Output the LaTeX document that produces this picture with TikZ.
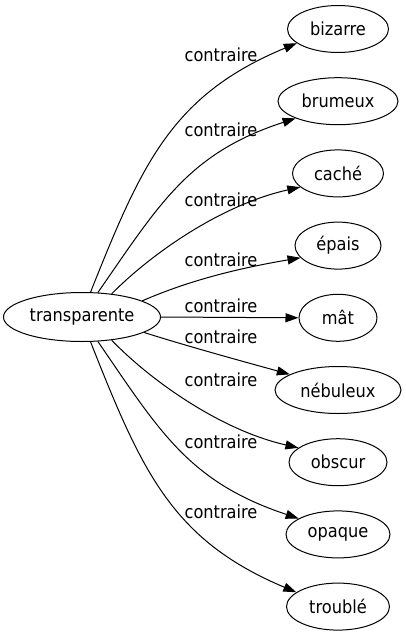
\documentclass[tikz,border=0pt]{standalone}
\usepackage{fontspec}
\setmainfont{DejaVu Sans Condensed}
\usetikzlibrary{shapes.geometric,arrows.meta}
\begin{document}
\begin{tikzpicture}[x=1pt,y=-1pt,
  every node/.style={font=\fontsize{18}{20}\selectfont},
  nd/.style={draw,ellipse,inner sep=0pt,line width=1pt,minimum height=47pt},
  lbl/.style={inner sep=0pt,anchor=center},
  ed/.style={line width=1pt,-{Triangle[length=13pt,width=9pt]}}]
\useasboundingbox (0,0) rectangle (406,635);
\node[nd,minimum width=157pt,minimum height=49pt] (tr) at (82,317) {transparente};
\node[nd,minimum width=101pt] (bi) at (338,29) {bizarre};
\node[nd,minimum width=120pt] (br) at (338,101.2) {brumeux};
\node[nd,minimum width=91pt] (ca) at (338,173.4) {caché};
\node[nd,minimum width=86pt] (ep) at (338,245.6) {épais};
\node[nd,minimum width=78pt] (ma) at (338,317.8) {mât};
\node[nd,minimum width=126pt] (ne) at (338,390) {nébuleux};
\node[nd,minimum width=98pt] (ob) at (338,462.2) {obscur};
\node[nd,minimum width=104pt] (op) at (338,534.4) {opaque};
\node[nd,minimum width=103pt] (to) at (338,606.6) {troublé};
\node[lbl] (l1) at (221,55) {contraire};
\node[lbl] (l2) at (221,130) {contraire};
\node[lbl] (l3) at (221,200) {contraire};
\node[lbl] (l4) at (221,260) {contraire};
\node[lbl] (l5) at (221,306) {contraire};
\node[lbl] (l6) at (221,337) {contraire};
\node[lbl] (l7) at (221,380) {contraire};
\node[lbl] (l8) at (221,442) {contraire};
\node[lbl] (l9) at (221,512) {contraire};
\draw[ed] (tr.71.6) .. controls (142,163) and (172,95) .. (bi.199);
\draw[ed] (tr.57.5) .. controls (160,203) and (189,153) .. (br.202);
\draw[ed] (tr.38.7) .. controls (150,255) and (220,205) .. (ca.200);
\draw[ed] (tr.15.5) .. controls (190,280) and (240,268) .. (ep.198.5);
\draw[ed] (tr.east) -- (ma.west);
\draw[ed] (tr.-14.3) .. controls (190,347) and (245,362) .. (ne.162);
\draw[ed] (tr.-38.7) .. controls (150,380) and (220,430) .. (ob.160);
\draw[ed] (tr.-57.5) .. controls (160,432) and (189,482) .. (op.158);
\draw[ed] (tr.-71.6) .. controls (142,472) and (172,540) .. (to.161);
\end{tikzpicture}
\end{document}
